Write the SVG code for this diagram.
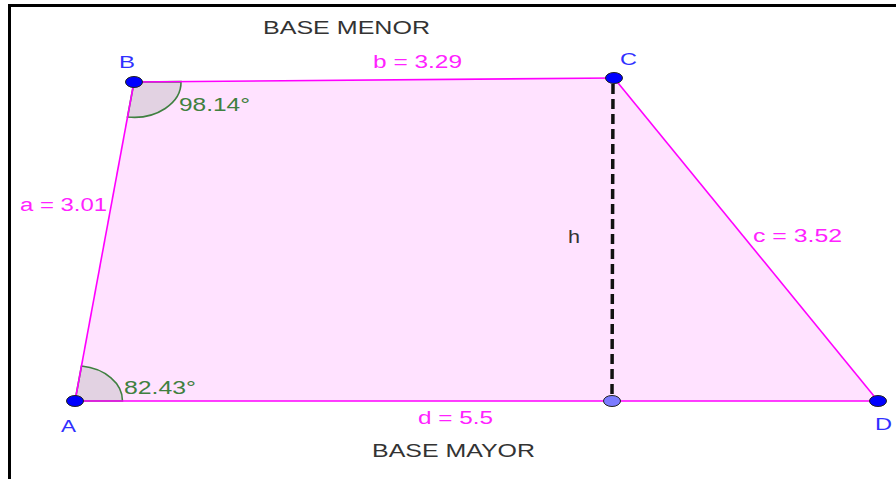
<svg xmlns="http://www.w3.org/2000/svg" width="896" height="479" viewBox="0 0 896 479">
<style>
text{font-family:"Liberation Sans",Arial,sans-serif;font-size:18px}
.mag{fill:#ff22ff}
.blu{fill:#3030ff;font-size:17px}
.grn{fill:#3f8040}
.blk{fill:#333}
.edge{stroke:#ff00ff;stroke-width:1.6;fill:none}
.pt{fill:#0000ff;stroke:#222;stroke-width:1}
.ang{fill:#e2d2e2;stroke:#3f8040;stroke-width:1.6}
</style>
<rect x="0" y="0" width="896" height="479" fill="#fff"/>
<path d="M9.5 479 V5.5 H896" fill="none" stroke="#000" stroke-width="3"/>
<g id="shape">
<polygon points="75,401 134,82 614,78 878,401" fill="#ffe2ff"/>
</g>
<g id="angles">
<path class="ang" d="M134 82 L181 81.6 A47 35 0 0 1 127.5 117 Z"/>
<path class="ang" d="M75 401 L122.5 401 A47.5 35 0 0 0 81.5 366 Z"/>
<text class="grn" x="179" y="111" textLength="71" lengthAdjust="spacingAndGlyphs">98.14°</text>
<text class="grn" x="124" y="394" textLength="72" lengthAdjust="spacingAndGlyphs">82.43°</text>
</g>
<g id="connectors">
<line id="a" class="edge" x1="75" y1="401" x2="134" y2="82"/>
<line id="b" class="edge" x1="134" y1="82" x2="614" y2="78"/>
<line id="c" class="edge" x1="614" y1="78" x2="878" y2="401"/>
<line id="d" class="edge" x1="75" y1="401" x2="878" y2="401"/>
<line id="h" x1="613" y1="84" x2="612" y2="396" stroke="#111" stroke-width="3.5" stroke-dasharray="10,5"/>
</g>
<g id="labels">
<text class="blk" x="263" y="34" textLength="167" lengthAdjust="spacingAndGlyphs">BASE MENOR</text>
<text class="mag" x="373" y="68" textLength="89" lengthAdjust="spacingAndGlyphs">b = 3.29</text>
<text class="mag" x="20" y="211" textLength="87" lengthAdjust="spacingAndGlyphs">a = 3.01</text>
<text class="mag" x="753" y="242" textLength="89" lengthAdjust="spacingAndGlyphs">c = 3.52</text>
<text class="blk" x="568" y="243" textLength="12" lengthAdjust="spacingAndGlyphs">h</text>
<text class="mag" x="418" y="424" textLength="75" lengthAdjust="spacingAndGlyphs">d = 5.5</text>
<text class="blk" x="372" y="457" textLength="163" lengthAdjust="spacingAndGlyphs">BASE MAYOR</text>
</g>
<g id="A"><ellipse class="pt" cx="75" cy="401" rx="8.5" ry="5.5"/><text class="blu" x="61" y="432" textLength="15" lengthAdjust="spacingAndGlyphs">A</text></g>
<g id="B"><ellipse class="pt" cx="134" cy="82" rx="8.5" ry="5.5"/><text class="blu" x="119" y="68" textLength="16" lengthAdjust="spacingAndGlyphs">B</text></g>
<g id="C"><ellipse class="pt" cx="614" cy="78" rx="8.5" ry="5.5"/><text class="blu" x="620" y="65" textLength="17" lengthAdjust="spacingAndGlyphs">C</text></g>
<g id="D"><ellipse class="pt" cx="878" cy="401" rx="8.5" ry="5.5"/><text class="blu" x="875" y="430" textLength="17" lengthAdjust="spacingAndGlyphs">D</text></g>
<g id="H"><ellipse cx="612" cy="401" rx="8.5" ry="5.5" fill="#7b7bff" stroke="#222" stroke-width="1"/></g>
</svg>
